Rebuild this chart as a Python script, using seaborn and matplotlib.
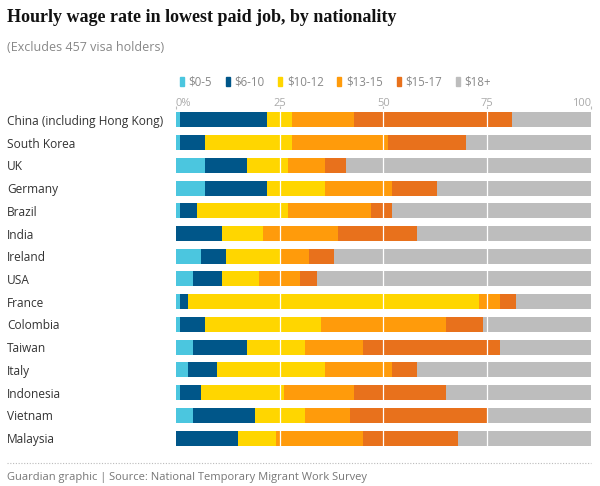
import matplotlib
matplotlib.use("Agg")
import matplotlib.pyplot as plt
import matplotlib.patches as mpatches
import numpy as np
import pandas as pd
import seaborn as sns

# data (percent of respondents per wage band)
countries = ["China (including Hong Kong)", "South Korea", "UK", "Germany", "Brazil",
             "India", "Ireland", "USA", "France", "Colombia", "Taiwan", "Italy",
             "Indonesia", "Vietnam", "Malaysia"]
bands = ["$0-5", "$6-10", "$10-12", "$13-15", "$15-17", "$18+"]
band_0_5 = [1, 1, 7, 7, 1, 0, 6, 4, 1, 1, 4, 3, 1, 4, 0]
band_6_10 = [21, 6, 10, 15, 4, 11, 6, 7, 2, 6, 13, 7, 5, 15, 15]
band_10_12 = [6, 21, 10, 14, 22, 10, 13, 9, 70, 28, 14, 26, 20, 12, 9]
band_13_15 = [15, 23, 9, 16, 20, 18, 7, 10, 5, 30, 14, 16, 17, 11, 21]
band_15_17 = [38, 19, 5, 11, 5, 19, 6, 4, 4, 9, 33, 6, 22, 33, 23]
band_18_plus = [19, 30, 59, 37, 48, 42, 62, 66, 18, 26, 22, 42, 35, 25, 32]
colors = ["#4bc6df", "#005689", "#ffd600", "#ff9b0b", "#e8711c", "#bdbdbd"]

df = pd.DataFrame({"country": countries, "$0-5": band_0_5, "$6-10": band_6_10,
                   "$10-12": band_10_12, "$13-15": band_13_15, "$15-17": band_15_17,
                   "$18+": band_18_plus})
cum = df[bands].cumsum(axis=1)
cum = cum.div(cum["$18+"], axis=0) * 100
cum["country"] = countries

plt.rcParams["font.family"] = ["Open Sans", "DejaVu Sans"]
fig = plt.figure(figsize=(6, 4.86), dpi=100, facecolor="white")
ax = fig.add_axes([0.2933, 0.0753, 0.6917, 0.7013])

# stacked bars: draw cumulative totals from the right-most band backwards
for band, col in reversed(list(zip(bands, colors))):
    sns.barplot(data=cum, x=band, y="country", color=col, orient="h",
                width=0.66, ax=ax, saturation=1, linewidth=0, zorder=2)

for v in [25, 50, 75]:
    ax.axvline(v, color="white", lw=0.9, zorder=3)

ax.set_xlim(0, 100)
ax.set_xlabel("")
ax.set_ylabel("")
ax.xaxis.tick_top()
ax.set_xticks([0, 25, 50, 75, 100])
ax.set_xticklabels(["0%", "25", "50", "75", "100"])
ax.tick_params(axis="x", length=2.5, color="#bbbbbb", labelcolor="#aaaaaa",
               labelsize=8, pad=-3, width=0.8)
for lab, ha in zip(ax.get_xticklabels(), ["left", "center", "center", "center", "right"]):
    lab.set_ha(ha)
ax.tick_params(axis="y", length=0, pad=0, labelsize=8.6, labelcolor="#333333")
for lab in ax.get_yticklabels():
    lab.set_ha("left")
    lab.set_x(-0.2933 / 0.6917 + 7 / 415)
for s in ax.spines.values():
    s.set_visible(False)

fig.text(0.012, 0.963, "Hourly wage rate in lowest paid job, by nationality",
         family=["Liberation Serif", "DejaVu Serif"], fontweight="bold",
         fontsize=13, color="#121212", va="center")
fig.text(0.012, 0.902, "(Excludes 457 visa holders)", fontsize=9,
         color="#888888", va="center")

handles = [mpatches.Patch(color=c) for c in colors]
fig.legend(handles, bands, loc="center left", bbox_to_anchor=(0.282, 0.831),
           ncol=6, frameon=False, handlelength=0.35, handleheight=0.9,
           handletextpad=0.4, columnspacing=1.2, fontsize=8.3,
           labelcolor="#888888")

fig.add_artist(plt.Line2D([0.012, 0.985], [0.047, 0.047], color="#bbbbbb",
                          lw=0.8, ls=(0, (1, 1.5))))
fig.text(0.012, 0.018, "Guardian graphic | Source: National Temporary Migrant Work Survey",
         fontsize=8, color="#777777", va="center")

fig.savefig("out.png", dpi=100, facecolor="white")
